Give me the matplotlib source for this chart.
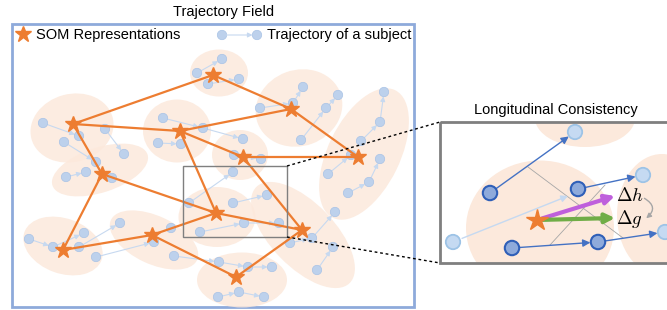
import numpy as np
import matplotlib
matplotlib.use('Agg')
import matplotlib.pyplot as plt
from matplotlib.patches import Ellipse, Circle, Rectangle, FancyArrowPatch

plt.rcParams['font.family'] = ['Liberation Sans', 'DejaVu Sans']
plt.rcParams['mathtext.fontset'] = 'cm'

# SOM nodes (pixel coords of the picture)
star_x = [73, 213, 180, 291, 243, 358, 102, 216, 302, 152, 63, 236]
star_y = [124, 75, 131, 109, 157, 157, 174, 213, 230, 235, 250, 277]
# lattice edges between nodes
edges = [(0, 1), (1, 3), (0, 2), (2, 3), (3, 5), (4, 5), (2, 4), (0, 6),
         (6, 7), (2, 7), (4, 8), (7, 8), (6, 10), (10, 9), (9, 7), (9, 11),
         (11, 8)]

# clusters: centre x, centre y, width, height, angle (visual, deg)
ell_cx = [72, 219, 177, 299, 240, 364, 100, 217, 303, 154, 63, 242]
ell_cy = [128, 73, 131, 108, 155, 154, 170, 217, 235, 240, 246, 280]
ell_w = [84, 58, 68, 88, 56, 142, 100, 77, 134, 95, 82, 90]
ell_h = [68, 47, 63, 76, 50, 72, 45, 60, 64, 48, 55, 55]
ell_a = [15, 0, 0, 20, 0, 64, 18, 0, -46, -25, -20, 0]

# subject trajectories
trajs = [
    [(197, 73), (222, 59)],
    [(208, 84), (239, 79)],
    [(43, 123), (79, 136)],
    [(64, 142), (96, 162)],
    [(105, 129), (124, 154)],
    [(163, 118), (203, 128), (243, 139)],
    [(158, 143), (181, 144)],
    [(234, 155), (261, 159)],
    [(260, 108), (293, 103), (303, 87)],
    [(301, 140), (326, 108), (338, 95)],
    [(361, 141), (380, 122), (384, 92)],
    [(328, 174), (351, 155)],
    [(348, 193), (369, 182), (380, 159)],
    [(290, 243), (312, 238), (335, 212)],
    [(317, 270), (333, 247)],
    [(66, 177), (86, 172)],
    [(112, 178)],
    [(29, 239), (53, 247), (84, 233)],
    [(79, 247), (120, 223)],
    [(96, 257), (154, 242)],
    [(171, 228)],
    [(189, 203), (233, 172)],
    [(233, 203), (267, 195)],
    [(200, 232), (244, 223), (279, 223)],
    [(174, 256), (219, 262), (248, 267), (272, 267)],
    [(218, 297), (239, 292), (264, 297)],
]

# zoomed panel
z_ell_cx = [585, 540, 662]
z_ell_cy = [118, 228, 215]
z_ell_w = [100, 148, 90]
z_ell_h = [58, 135, 122]
light_pts = [(575, 132), (643, 175), (453, 242), (665, 232)]
dark_pts = [(490, 193), (578, 189), (512, 248), (598, 242)]
# (start, end) of the solid blue steps
dark_steps = [((490, 193), (575, 132)), ((578, 189), (643, 175)),
              ((512, 248), (598, 242)), ((598, 242), (665, 232))]
faint_step = ((453, 242), (568, 196))
z_star = (537, 220)
dh_end = (615, 196)
dg_end = (615, 218)

ORANGE = '#ed7d31'
PEACH = '#fce9dc'
DOT = '#bdd1ec'
DOT_EDGE = '#a9c3e6'
ARR = '#c7d9f0'

fig = plt.figure(figsize=(6.67, 3.10), dpi=100)
ax = fig.add_axes([0, 0, 1, 1])
ax.set_xlim(0, 667)
ax.set_ylim(310, 0)
ax.axis('off')

# main field
ax.add_patch(Rectangle((12, 24), 402, 283, fill=False, ec='#8eaadb', lw=2, zorder=1))
ax.text(224, 12, 'Trajectory Field', ha='center', va='center', fontsize=10.5)

for cx, cy, w, h, a in zip(ell_cx, ell_cy, ell_w, ell_h, ell_a):
    ax.add_patch(Ellipse((cx, cy), w, h, angle=-a, fc=PEACH, ec='none', alpha=0.85, zorder=2))

for tr in trajs:
    for p, q in zip(tr[:-1], tr[1:]):
        ax.annotate('', xy=q, xytext=p,
                    arrowprops=dict(arrowstyle='-|>', color=ARR, lw=0.8,
                                    shrinkA=3, shrinkB=3.2, mutation_scale=7),
                    zorder=3)
    for (x, y) in tr:
        ax.add_patch(Circle((x, y), 4.7, fc=DOT, ec=DOT_EDGE, lw=0.5, zorder=4))

for i, j in edges:
    ax.plot([star_x[i], star_x[j]], [star_y[i], star_y[j]], color=ORANGE, lw=1.6, zorder=5)
ax.plot(star_x, star_y, ls='none', marker='*', ms=12, color=ORANGE, mec=ORANGE, zorder=6)

# legend
ax.plot([23], [34], marker='*', ms=12, color=ORANGE, ls='none')
ax.text(36, 35, 'SOM Representations', ha='left', va='center', fontsize=10.5)
ax.annotate('', xy=(257, 35), xytext=(222, 35),
            arrowprops=dict(arrowstyle='-|>', color=ARR, lw=0.8,
                            shrinkA=3, shrinkB=3.2, mutation_scale=7))
for x in (222, 257):
    ax.add_patch(Circle((x, 35), 4.7, fc=DOT, ec=DOT_EDGE, lw=0.5))
ax.text(267, 35, 'Trajectory of a subject', ha='left', va='center', fontsize=10.5)

# zoom box and guide lines
ax.add_patch(Rectangle((183, 166), 104, 71, fill=False, ec='#7f7f7f', lw=1, zorder=7))
ax.plot([287, 440], [166, 122], color='black', lw=1, ls=(0, (2, 2)), zorder=7)
ax.plot([287, 440], [237, 263], color='black', lw=1, ls=(0, (2, 2)), zorder=7)

# zoomed panel
ax.text(556, 110, 'Longitudinal Consistency', ha='center', va='center', fontsize=10.5)
clip = Rectangle((440, 122), 260, 141, transform=ax.transData)
for cx, cy, w, h in zip(z_ell_cx, z_ell_cy, z_ell_w, z_ell_h):
    e = Ellipse((cx, cy), w, h, fc=PEACH, ec='none', zorder=2)
    ax.add_patch(e)
    e.set_clip_path(clip)

ax.plot([528, 623], [167, 238], color='#a6a6a6', lw=0.6, zorder=3)
ax.plot([605, 550], [185, 245], color='#a6a6a6', lw=0.6, zorder=3)

ax.annotate('', xy=faint_step[1], xytext=faint_step[0],
            arrowprops=dict(arrowstyle='-|>', color='#c5d9f1', lw=1,
                            shrinkA=7, shrinkB=0, mutation_scale=10), zorder=4)
for p, q in dark_steps:
    ax.annotate('', xy=q, xytext=p,
                arrowprops=dict(arrowstyle='-|>', color='#4472c4', lw=1,
                                shrinkA=5.5, shrinkB=5.5, mutation_scale=11), zorder=5)
for (x, y) in light_pts:
    ax.add_patch(Circle((x, y), 7.2, fc='#c5daf2', ec='#9dc3e6', lw=1.3, zorder=6))
for (x, y) in dark_pts:
    ax.add_patch(Circle((x, y), 7.2, fc='#8eaadb', ec='#2f5fb8', lw=1.5, zorder=6))

ax.annotate('', xy=dh_end, xytext=z_star,
            arrowprops=dict(arrowstyle='-|>', color='#bf5fdc', lw=3,
                            shrinkA=4, shrinkB=0, mutation_scale=14), zorder=7)
ax.annotate('', xy=dg_end, xytext=z_star,
            arrowprops=dict(arrowstyle='-|>', color='#70ad47', lw=3,
                            shrinkA=4, shrinkB=0, mutation_scale=14), zorder=7)
ax.plot([z_star[0]], [z_star[1]], marker='*', ms=16, color=ORANGE, ls='none', zorder=8)
ax.text(616, 196, r'$\Delta h$', ha='left', va='center', fontsize=13.5, zorder=8)
ax.text(616, 219, r'$\Delta g$', ha='left', va='center', fontsize=13.5, zorder=8)
ax.add_patch(FancyArrowPatch((642, 197), (644, 220), connectionstyle='arc3,rad=-0.8',
                             arrowstyle='-|>', color='#a6a6a6', lw=1, mutation_scale=7,
                             zorder=8))

ax.add_patch(Rectangle((440, 122), 260, 141, fill=False, ec='#7f7f7f', lw=2, zorder=9,
                       clip_on=False))

fig.savefig('out.png', dpi=100)
